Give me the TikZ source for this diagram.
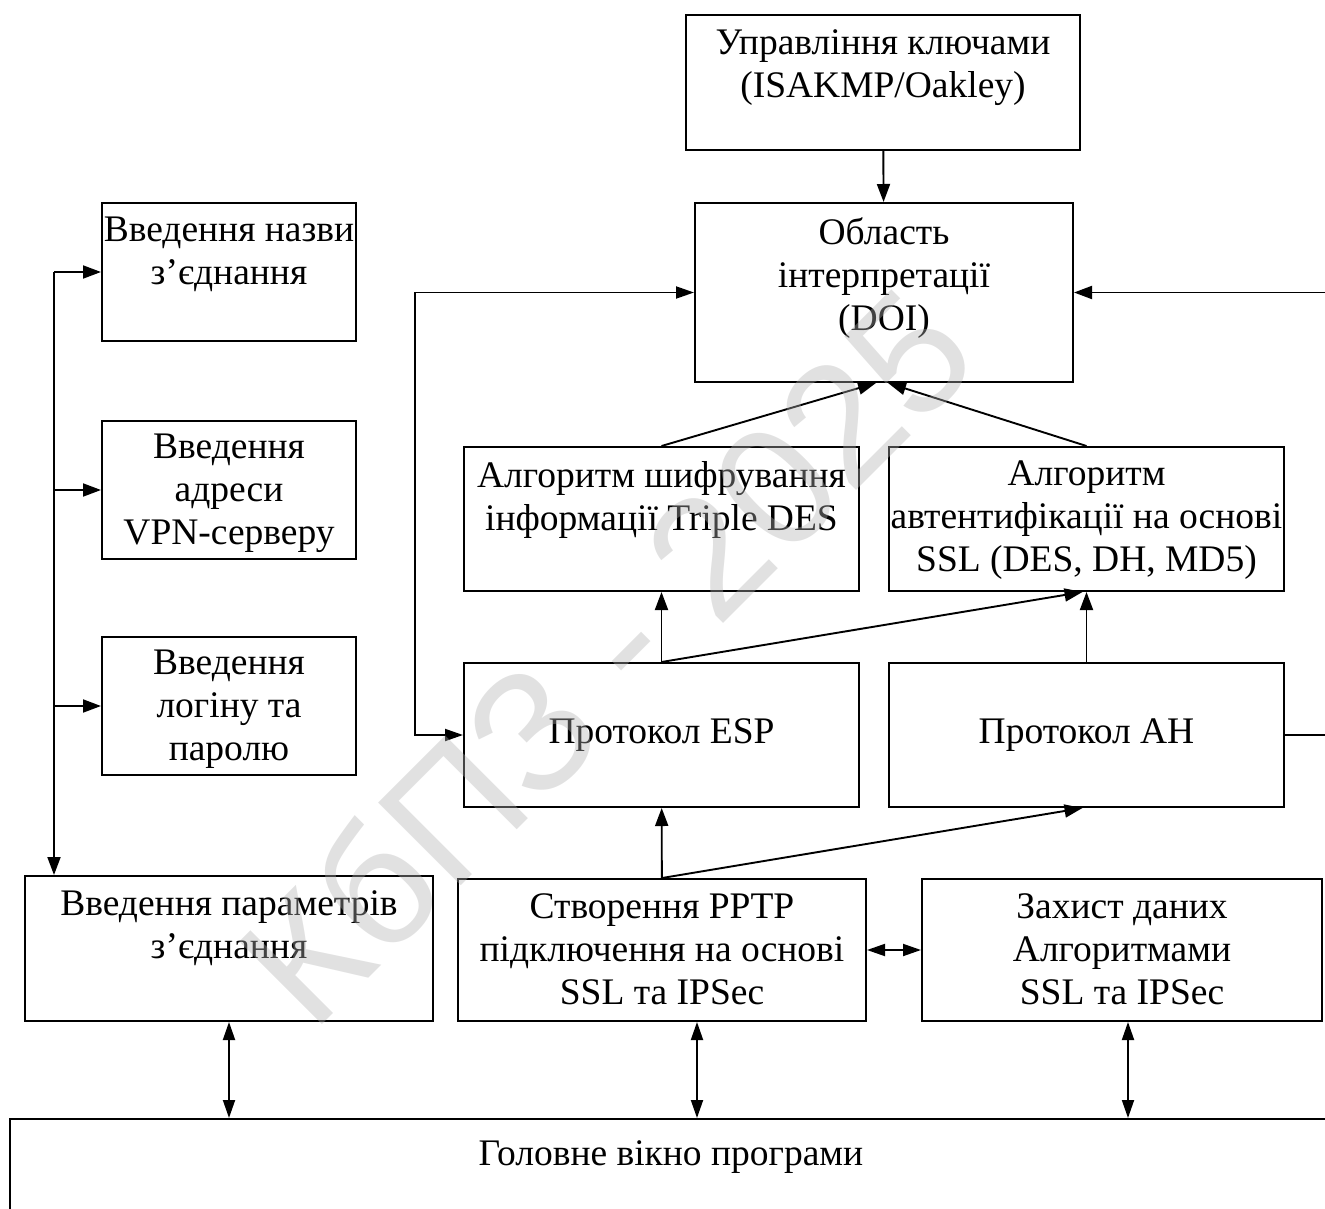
\documentclass[tikz,border=0pt]{standalone}
\usepackage{fontspec}
\setmainfont{Liberation Serif}
\newfontfamily\wmfont{Liberation Sans}
\usetikzlibrary{arrows.meta,positioning}

\begin{document}
\begin{tikzpicture}[x=1pt,y=-1pt,
  box/.style 2 args={draw, line width=2pt, inner sep=0pt,
    minimum width=#1pt, minimum height=#2pt},
  txt/.style={font=\fontsize{37.5}{43}\selectfont, align=center, inner sep=0pt},
  arr/.style={line width=1.9pt, -{Triangle[length=18pt,width=13pt]}},
  arrs/.style={line width=1.9pt, {Triangle[length=18pt,width=12pt]}-{Triangle[length=18pt,width=12pt]}},
  wm/.style={font=\wmfont\fontsize{170}{170}\selectfont,
    text={rgb,255:red,177;green,177;blue,177}, opacity=0.38}]
\useasboundingbox (0,0) rectangle (1325,1209);

% boxes
\node[box={394}{135}] (key) at (883,82.5) {};
\node[box={378}{179}] (doi) at (884,292.5) {};
\node[box={395}{144}] (des) at (661.5,519) {};
\node[box={395}{144}] (ssl) at (1086.5,519) {};
\node[box={395}{144}] (esp) at (661.5,735) {};
\node[box={395}{144}] (ah) at (1086.5,735) {};
\node[box={254}{138}] (name) at (229,272) {};
\node[box={254}{138}] (addr) at (229,490) {};
\node[box={254}{138}] (login) at (229,706) {};
\node[box={408}{145}] (param) at (229,948.5) {};
\node[box={408}{142}] (pptp) at (662,950) {};
\node[box={400}{142}] (prot) at (1122,950) {};
\node[box={1322}{141}] (main) at (671,1189.5) {};

% labels
\node[txt, below=15pt of key.north] {Управління ключами\\(ISAKMP/Oakley)};
\node[txt, below=15pt of doi.north] {Область\\інтерпретації\\(DOI)};
\node[txt, below=15pt of des.north] {Алгоритм шифрування\\інформації Triple DES};
\node[txt, below=15pt of ssl.north] {Алгоритм\\автентифікації на основі\\SSL (DES, DH, MD5)};
\node[txt] at (esp) {Протокол ESP};
\node[txt] at (ah) {Протокол АН};
\node[txt, below=15pt of name.north] {Введення назви\\з’єднання};
\node[txt, below=14pt of addr.north] {Введення\\адреси\\VPN-серверу};
\node[txt, below=14pt of login.north] {Введення\\логіну та\\паролю};
\node[txt, below=15pt of param.north] {Введення параметрів\\з’єднання};
\node[txt, below=15pt of pptp.north] {Створення PPTP\\підключення на основі\\SSL та IPSec};
\node[txt, below=15pt of prot.north] {Захист даних\\Алгоритмами\\SSL та IPSec};
\node[txt, below=22pt of main.north] {Головне вікно програми};

% left bus
\coordinate (bus) at (54,272);
\draw[arr] (bus) -- (bus |- param.north);
\draw[arr] (bus) -- (name.west);
\draw[arr] (bus |- addr.west) -- (addr.west);
\draw[arr] (bus |- login.west) -- (login.west);

% upper part
\draw[arr] (key) -- (doi);
\draw[arr] (des.north) -- ([xshift=-8pt]doi.south);
\draw[arr] (ssl.north) -- ([xshift=4pt]doi.south);
\draw[arr] (esp) -- (des);
\draw[arr] (esp.north) -- ([xshift=-4pt]ssl.south);
\draw[arr] (ah) -- (ssl);
\draw[arrs] (esp.west) -- ++(-48,0) |- (doi.west);
\draw[arr] (ah.east) -- ++(50,0) |- (doi.east);

% lower part
\draw[arr] (pptp) -- (esp);
\draw[arr] (pptp.north) -- ([xshift=-4pt]ah.south);
\draw[arrs] (pptp) -- (prot);
\draw[arrs] (param.south) -- (param.south |- main.north);
\draw[arrs] ([xshift=35pt]pptp.south) -- ([xshift=35pt]pptp.south |- main.north);
\draw[arrs] ([xshift=6pt]prot.south) -- ([xshift=6pt]prot.south |- main.north);

% watermark
\node[wm, rotate=45] at (605,655) {КбПЗ - 2025};
\end{tikzpicture}
\end{document}
